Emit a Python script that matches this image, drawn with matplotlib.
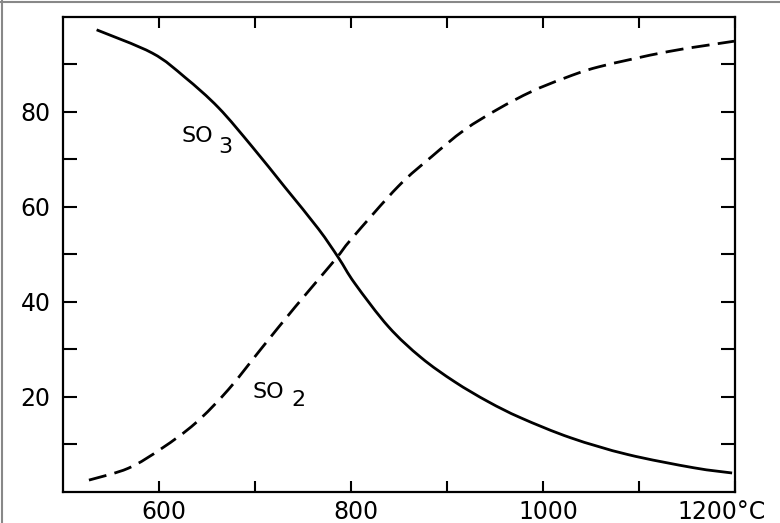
import numpy as np
import matplotlib
matplotlib.use("Agg")
import matplotlib.pyplot as plt
import matplotlib.transforms as mtrans
from matplotlib.lines import Line2D
from matplotlib.path import Path
from matplotlib.patches import PathPatch

plt.rcParams.update({"font.family": "DejaVu Sans", "font.size": 17})

# SO3 (curva continua)
t_so3 = [535, 593, 627, 662, 697, 731, 766, 787, 804, 839, 873, 908, 943,
         977, 1029, 1088, 1157, 1197]
so3 = [97.3, 92.4, 87.3, 80.9, 72.7, 64.2, 55.4, 49.3, 43.9, 34.8, 28.3,
       23.2, 19.0, 15.6, 11.4, 7.9, 5.1, 4.0]

# SO2 (curva discontinua)
t_so2 = [527, 568, 603, 638, 672, 707, 742, 783, 801, 849, 884, 918, 953,
         988, 1022, 1058, 1130, 1199]
so2 = [2.5, 5.0, 9.2, 14.5, 21.5, 30.3, 39.0, 48.8, 53.4, 64.3, 70.6, 76.2,
       80.6, 84.3, 87.1, 89.5, 92.7, 94.9]

xticks = [600, 700, 800, 900, 1000, 1100, 1200]
xlabels = ["600", "", "800", "", "1000", "", "1200°C"]
yticks = list(range(10, 100, 10))
ylabels = ["", "20", "", "40", "", "60", "", "80", ""]


def curva(x, y):
    # trazo suave (Bezier tipo Catmull-Rom) que pasa por los puntos leidos
    p = np.column_stack([x, y]).astype(float)
    verts, codes = [p[0]], [Path.MOVETO]
    for i in range(len(p) - 1):
        p0 = p[i - 1] if i > 0 else p[i]
        p3 = p[i + 2] if i + 2 < len(p) else p[i + 1]
        verts += [p[i] + (p[i + 1] - p0) / 6, p[i + 1] - (p3 - p[i]) / 6, p[i + 1]]
        codes += [Path.CURVE4] * 3
    return Path(verts, codes)


fig = plt.figure(figsize=(7.8, 5.23), dpi=100)
ax = fig.add_axes([0.0808, 0.0593, 0.8615, 0.9082])

ax.add_patch(PathPatch(curva(t_so3, so3), fill=False, edgecolor="black",
                       lw=2.0, capstyle="butt"))
ax.add_patch(PathPatch(curva(t_so2, so2), fill=False, edgecolor="black",
                       lw=2.0, linestyle=(0, (6.5, 3.0)), capstyle="butt"))

ax.set_xlim(500, 1200)
ax.set_ylim(0, 100)
ax.set_xticks(xticks)
ax.set_xticklabels(xlabels)
ax.set_yticks(yticks)
ax.set_yticklabels(ylabels)
ax.tick_params(axis="both", direction="in", width=1.5, color="black")
ax.tick_params(axis="x", length=8, top=True, pad=6)
ax.tick_params(axis="y", length=10, right=True, pad=9)
for sp in ax.spines.values():
    sp.set_linewidth(1.6)

# desplazar etiquetas del eje x como en el original
for lab in ax.get_xticklabels():
    dx = -13 if lab.get_text().endswith("C") else 5
    lab.set_transform(lab.get_transform() +
                      mtrans.ScaledTranslation(dx / 100, 0, fig.dpi_scale_trans))

# rotulos de las curvas
ax.text(623, 73.7, "SO", fontsize=16, ha="left", va="baseline")
ax.text(662, 71.3, "3", fontsize=16, ha="left", va="baseline")
ax.text(697, 19.7, "SO", fontsize=16, ha="left", va="baseline")
ax.text(738, 18.1, "2", fontsize=16, ha="left", va="baseline")

# marco gris del escaneo
fig.add_artist(Line2D([0, 1], [0.997, 0.997], transform=fig.transFigure,
                      color="#888888", lw=1.5))
fig.add_artist(Line2D([0.003, 0.003], [0, 1], transform=fig.transFigure,
                      color="#888888", lw=1.5))

fig.savefig("out.png", dpi=100, facecolor="white")
